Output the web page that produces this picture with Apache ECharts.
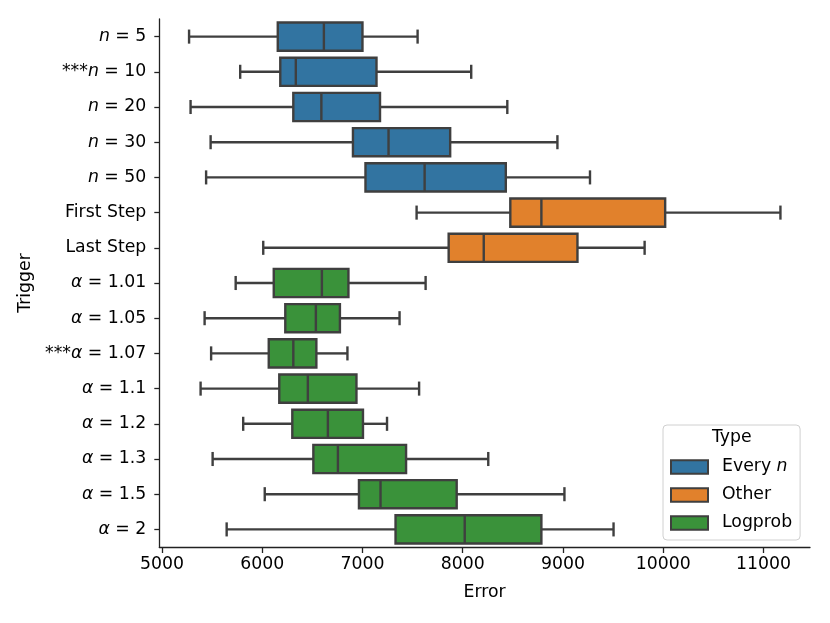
<!DOCTYPE html>
<html>
<head>
<meta charset="utf-8">
<script src="https://cdn.jsdelivr.net/npm/echarts@6/dist/echarts.min.js"></script>
<style>
  html, body { margin: 0; padding: 0; background: #fff; }
  #chart { width: 830px; height: 623px; }
</style>
</head>
<body>
<div id="chart"></div>
<script>
const categories = ['n = 5', '***n = 10', 'n = 20', 'n = 30', 'n = 50', 'First Step', 'Last Step',
  'α = 1.01', 'α = 1.05', '***α = 1.07', 'α = 1.1', 'α = 1.2', 'α = 1.3', 'α = 1.5', 'α = 2'];
const typeNames = ['Every n', 'Other', 'Logprob'];
const typeOfCategory = [0, 0, 0, 0, 0, 1, 1, 2, 2, 2, 2, 2, 2, 2, 2];
const typeColors = ['#3274a1', '#e1812c', '#3a923a'];

const lows    = [5270, 5780, 5285, 5485, 5440, 7540, 6010, 5735, 5425, 5490, 5385, 5810, 5505, 6025, 5645];
const q1s     = [6155, 6180, 6310, 6905, 7030, 8475, 7860, 6115, 6230, 6065, 6170, 6300, 6510, 6965, 7330];
const medians = [6615, 6335, 6590, 7260, 7620, 8785, 8210, 6595, 6535, 6310, 6455, 6655, 6755, 7180, 8020];
const q3s     = [7000, 7140, 7175, 7875, 8430, 10020, 9145, 6860, 6775, 6540, 6940, 7005, 7435, 7940, 8785];
const highs   = [7550, 8085, 8445, 8945, 9270, 11170, 9815, 7630, 7370, 6850, 7565, 7245, 8255, 9015, 9505];

const xTicks = [5000, 6000, 7000, 8000, 9000, 10000, 11000];

const FONT = 'DejaVu Sans';
const FS = 17.3;
const EDGE = '#3f3f3f';
const AXIS = '#222';

function renderBox(params, api) {
  const y = api.value(0);
  const pLow = api.coord([api.value(1), y]);
  const pQ1 = api.coord([api.value(2), y]);
  const pMed = api.coord([api.value(3), y]);
  const pQ3 = api.coord([api.value(4), y]);
  const pHigh = api.coord([api.value(5), y]);
  const band = api.size([0, 1])[1];
  const boxH = band * 0.8;
  const capH = boxH * 0.5;
  const cy = pMed[1];
  const line = { stroke: EDGE, lineWidth: 2.4 };
  return {
    type: 'group',
    children: [
      { type: 'line', shape: { x1: pLow[0], y1: cy, x2: pQ1[0], y2: cy }, style: line },
      { type: 'line', shape: { x1: pQ3[0], y1: cy, x2: pHigh[0], y2: cy }, style: line },
      { type: 'line', shape: { x1: pLow[0], y1: cy - capH / 2, x2: pLow[0], y2: cy + capH / 2 }, style: line },
      { type: 'line', shape: { x1: pHigh[0], y1: cy - capH / 2, x2: pHigh[0], y2: cy + capH / 2 }, style: line },
      {
        type: 'rect',
        shape: { x: pQ1[0], y: cy - boxH / 2, width: pQ3[0] - pQ1[0], height: boxH },
        style: { fill: api.visual('color'), stroke: EDGE, lineWidth: 2.4 }
      },
      { type: 'line', shape: { x1: pMed[0], y1: cy - boxH / 2, x2: pMed[0], y2: cy + boxH / 2 }, style: line }
    ]
  };
}

const series = typeNames.map((name, t) => ({
  name: name,
  type: 'custom',
  renderItem: renderBox,
  itemStyle: { color: typeColors[t], borderColor: EDGE, borderWidth: 1.5 },
  encode: { y: 0, x: [1, 2, 3, 4, 5] },
  data: categories
    .map((c, i) => [i, lows[i], q1s[i], medians[i], q3s[i], highs[i]])
    .filter((d) => typeOfCategory[d[0]] === t)
}));

const chart = echarts.init(document.getElementById('chart'));
chart.setOption({
  animation: false,
  backgroundColor: '#fff',
  textStyle: { fontFamily: FONT },
  grid: { left: 159.3, right: 20, top: 19, bottom: 76 },
  xAxis: {
    type: 'value',
    min: 4973,
    max: 11465,
    name: 'Error',
    nameLocation: 'middle',
    nameGap: 37,
    nameTextStyle: { fontFamily: FONT, fontSize: FS, color: '#000' },
    axisLine: { show: true, lineStyle: { color: AXIS, width: 1.3 } },
    axisTick: { show: true, length: 6, customValues: xTicks, lineStyle: { color: AXIS, width: 1.3 } },
    axisLabel: {
      customValues: xTicks, margin: 9, fontFamily: FONT, fontSize: FS, color: '#000',
      formatter: (v) => String(v)
    },
    splitLine: { show: false }
  },
  yAxis: {
    type: 'category',
    data: categories,
    inverse: true,
    name: 'Trigger',
    nameLocation: 'middle',
    nameGap: 122,
    nameTextStyle: { fontFamily: FONT, fontSize: FS, color: '#000' },
    axisLine: { show: true, lineStyle: { color: AXIS, width: 1.3 } },
    axisTick: { show: true, length: 5, alignWithLabel: true, lineStyle: { color: AXIS, width: 1.3 } },
    axisLabel: {
      margin: 13,
      fontFamily: FONT,
      fontSize: FS,
      color: '#000',
      formatter: (v) => v.replace(/^(\*\*\*)?([nα])/, (m, s, c) => (s || '') + '{i|' + c + '}'),
      rich: { i: { fontStyle: 'italic', fontFamily: FONT, fontSize: FS, color: '#000' } }
    },
    splitLine: { show: false }
  },
  legend: {
    orient: 'vertical',
    left: 663,
    top: 425,
    padding: [32, 8, 7, 7],
    itemWidth: 37,
    itemHeight: 13.5,
    itemGap: 8,
    icon: 'rect',
    borderColor: '#d0d0d0',
    borderWidth: 1,
    borderRadius: 4,
    data: typeNames,
    textStyle: {
      fontFamily: FONT,
      fontSize: FS,
      color: '#000',
      padding: [0, 0, 0, 9],
      lineHeight: 20,
      rich: { i: { fontStyle: 'italic', fontFamily: FONT, fontSize: FS, color: '#000' } }
    },
    formatter: (name) => name === 'Every n' ? 'Every {i|n}' : name
  },
  graphic: [{
    type: 'text',
    left: 712,
    top: 429,
    style: { text: 'Type', fontFamily: FONT, fontSize: FS, fill: '#000' }
  }],
  series: series
});
</script>
</body>
</html>
